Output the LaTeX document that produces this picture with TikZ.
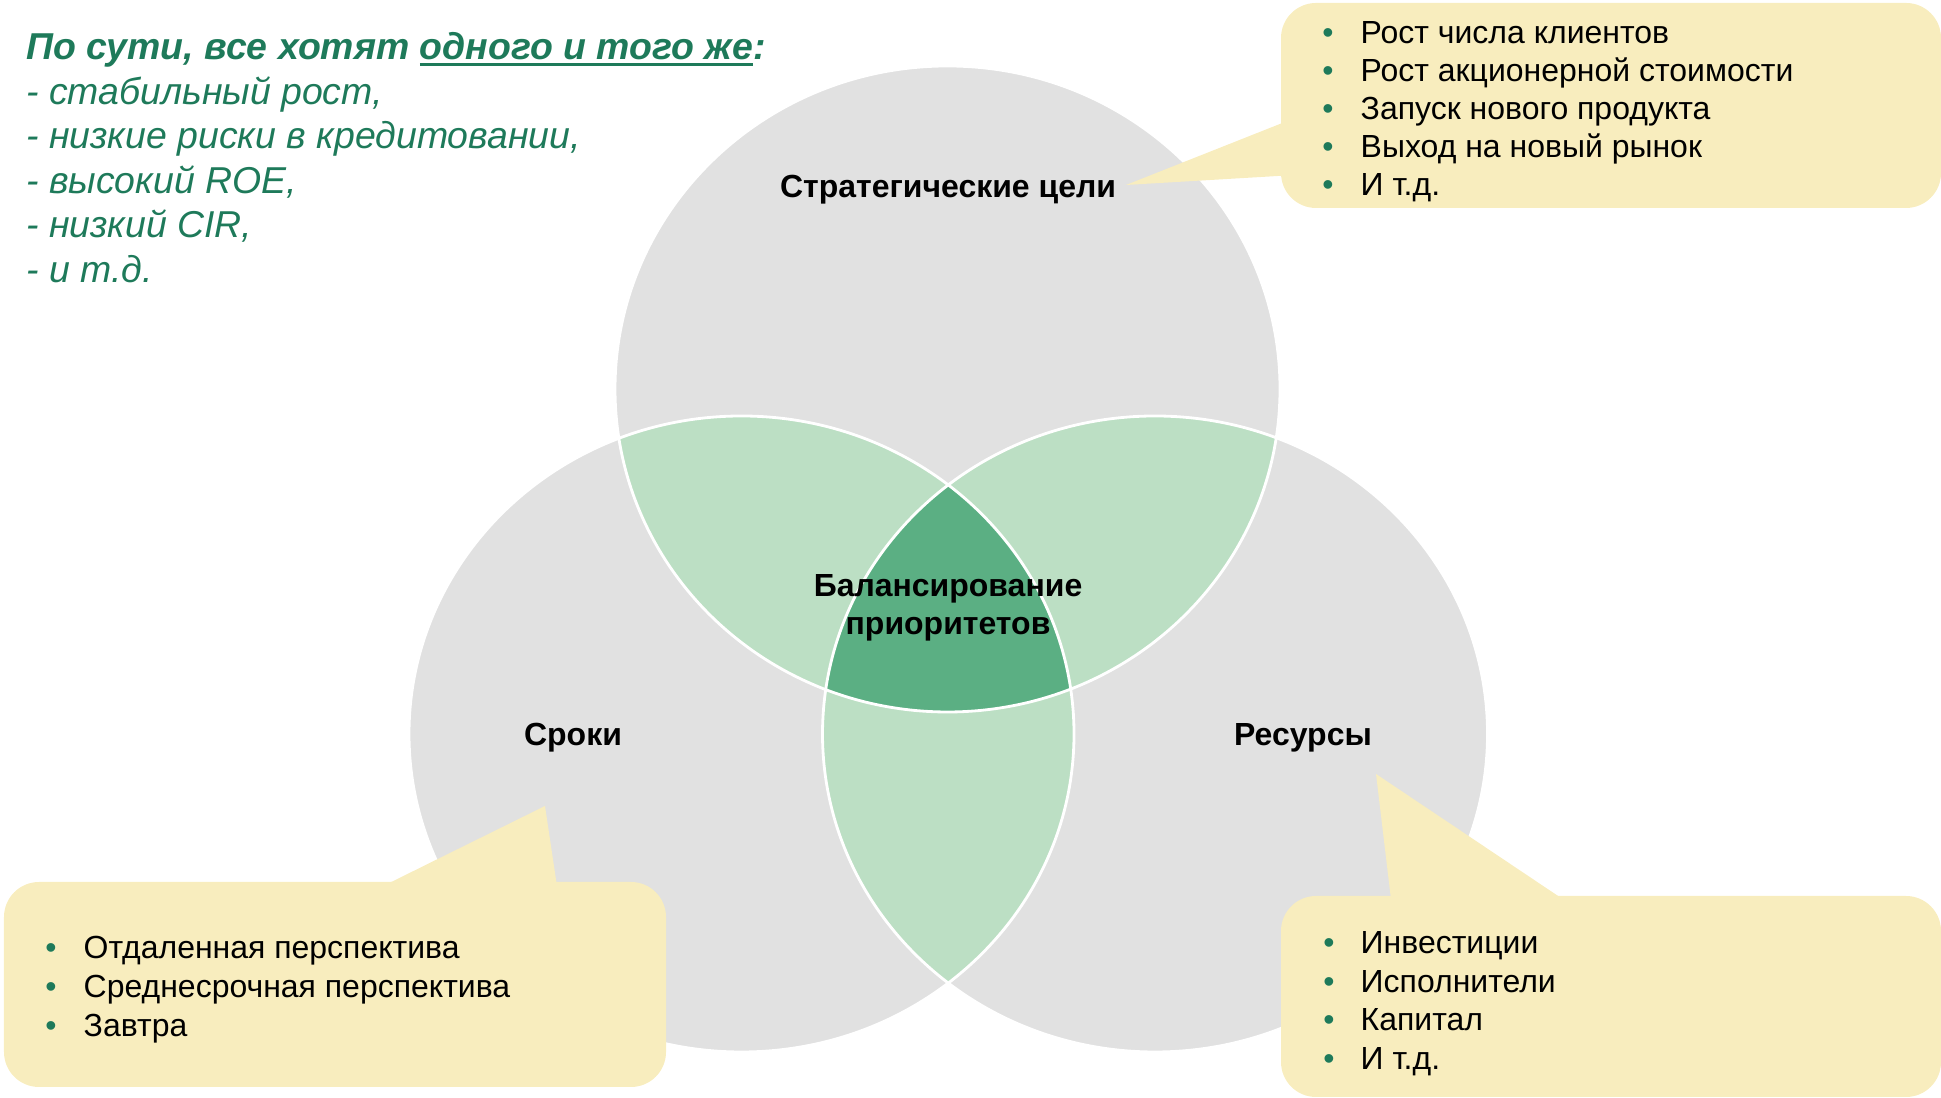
\documentclass[tikz,border=0pt]{standalone}
\usepackage{fontspec}
\setmainfont{Liberation Sans}
\usetikzlibrary{positioning}

\definecolor{venngray}{RGB}{225,225,225}
\definecolor{lensgreen}{RGB}{188,223,196}
\definecolor{coregreen}{RGB}{91,175,131}
\definecolor{notegold}{RGB}{248,237,190}
\definecolor{textgreen}{RGB}{30,122,90}

\newcommand{\ulbar}[1]{\setbox0\hbox{#1}\rlap{\rule[-1.8pt]{\wd0}{0.9pt}}\box0}

\tikzset{
    vennsize/.style={x radius=3.325, y radius=3.18},
    topsize/.style={x radius=3.325, y radius=3.23},
    rim/.style={draw=white, line width=0.8pt},
    callout/.style={fill=notegold, rounded corners=0.35cm},
    pointer/.style={fill=notegold},
    head/.style={font=\bfseries\fontsize{9.1}{10.9}\selectfont, inner sep=0, anchor=base},
    item/.style={font=\fontsize{9.1}{10.9}\selectfont, inner sep=0, anchor=base west},
    dot/.style={font=\fontsize{9.1}{10.9}\selectfont, text=textgreen, inner sep=0, anchor=base},
    goal/.style={font=\itshape\fontsize{10.65}{12.6}\selectfont, text=textgreen, inner sep=0, anchor=base west}
}

\begin{document}
\begin{tikzpicture}

        \useasboundingbox (0,0) rectangle (19.41,10.98);

        \coordinate (ctop) at (9.475,7.09);
        \coordinate (cleft) at (7.415,3.64);
        \coordinate (cright) at (11.55,3.64);

        \fill[venngray] (ctop) ellipse [topsize];
        \foreach \c in {cleft,cright}
            \fill[venngray] (\c) ellipse [vennsize];
        % two-way overlaps
        \begin{scope}
            \clip (ctop) ellipse [topsize];
            \fill[lensgreen] (cleft) ellipse [vennsize];
            \fill[lensgreen] (cright) ellipse [vennsize];
        \end{scope}
        \begin{scope}
            \clip (cleft) ellipse [vennsize];
            \fill[lensgreen] (cright) ellipse [vennsize];
        \end{scope}
        % three-way overlap
        \begin{scope}
            \clip (ctop) ellipse [topsize];
            \clip (cleft) ellipse [vennsize];
            \fill[coregreen] (cright) ellipse [vennsize];
        \end{scope}
        \draw[rim] (ctop) ellipse [topsize];
        \foreach \c in {cleft,cright}
            \draw[rim] (\c) ellipse [vennsize];

        % Top right callout
        \coordinate (tiptop) at (11.26,9.13);
        \fill[callout] (12.81,8.90) rectangle (19.41,10.95);
        \fill[pointer] (12.95,9.80) -- (tiptop) -- (12.95,9.23) -- cycle;
        % Bottom left callout
        \coordinate (tipleft) at (5.45,2.92);
        \fill[callout] (0.04,0.11) rectangle (6.66,2.16);
        \fill[pointer] (3.69,2.05) -- (tipleft) -- (5.58,2.05) -- cycle;
        % Bottom right callout
        \coordinate (tipright) at (13.76,3.24);
        \fill[callout] (12.81,0.01) rectangle (19.41,2.02);
        \fill[pointer] (13.92,1.90) -- (tipright) -- (15.76,1.90) -- cycle;

        \node[head] (goals) at (9.48,9.00) {Стратегические цели};
        \node[head] (terms) at (5.73,3.52) {Сроки};
        \node[head] (means) at (13.03,3.52) {Ресурсы};
        \node[head] (balance) at (9.48,5.01) {Балансирование};
        \node[head] (prio) at ([yshift=-0.38cm]balance.base) {приоритетов};

        \node[goal, font=\bfseries\itshape\fontsize{10.65}{12.6}\selectfont] (wish) at (0.255,10.38)
            {По сути, все хотят \ulbar{одного и того же}:};
        \foreach \t [count=\i] in {{- стабильный рост,},{- низкие риски в кредитовании,},{- высокий ROE,},{- низкий CIR,},{- и т.д.}}
            \node[goal] (wish\i) at (0.255,{10.38-0.445*\i}) {\t};

        \foreach \t [count=\i] in {Рост числа клиентов,Рост акционерной стоимости,Запуск нового продукта,Выход на новый рынок,И т.д.} {
            \node[dot] (gdot\i) at (13.28,{10.54-0.38*(\i-1)}) {•};
            \node[item] (goal\i) at (13.60,{10.54-0.38*(\i-1)}) {\t};
        }
        \foreach \t [count=\i] in {Отдаленная перспектива,Среднесрочная перспектива,Завтра} {
            \node[dot] (tdot\i) at (0.51,{1.39-0.39*(\i-1)}) {•};
            \node[item] (term\i) at (0.83,{1.39-0.39*(\i-1)}) {\t};
        }
        \foreach \t [count=\i] in {Инвестиции,Исполнители,Капитал,И т.д.} {
            \node[dot] (mdot\i) at (13.29,{1.44-0.385*(\i-1)}) {•};
            \node[item] (mean\i) at (13.60,{1.44-0.385*(\i-1)}) {\t};
        }

\end{tikzpicture}
\end{document}
